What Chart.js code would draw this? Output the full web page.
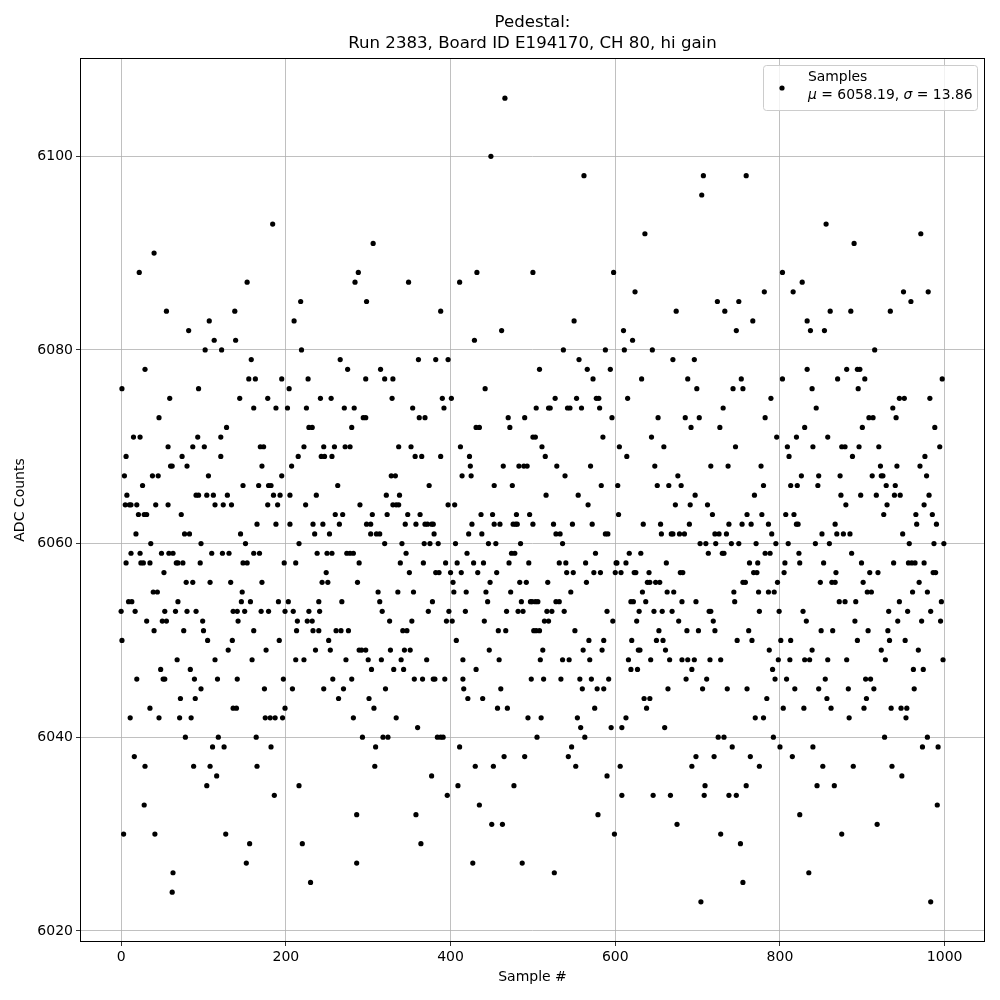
<!DOCTYPE html>
<html>
<head>
<meta charset="utf-8">
<title>Pedestal</title>
<script src="https://cdn.jsdelivr.net/npm/chart.js@4.4.1/dist/chart.umd.min.js"></script>
<style>
  html, body { margin: 0; padding: 0; background: #fff; }
  #wrap { width: 1000px; height: 1000px; }
</style>
</head>
<body>
<div id="wrap"><canvas id="chart" width="1000" height="1000"></canvas></div>
<script>
"use strict"

//Texts
const titleLines = ["Pedestal:", "Run 2383, Board ID E194170, CH 80, hi gain"];
const xTitle = "Sample #";
const yTitle = "ADC Counts";
const seriesName = "Samples";
const meanValue = "6058.19";
const sigmaValue = "13.86";

//Tick labels
const xTicks = [0, 200, 400, 600, 800, 1000];
const yTicks = [6020, 6040, 6060, 6080, 6100];

//Sample numbers (one line per strip of ~85 samples)
const sampleNo = [
  0,1,1,3,4,5,6,6,7,9,10,11,12,12,13,15,16,17,18,19,19,21,22,23,23,24,26,27,28,28,29,29,31,31,35,35,36,38,39,40,40,41,42,44,45,46,46,48,49,50,51,52,53,53,55,55,57,57,58,59,60,62,62,63,63,66,67,68,69,69,71,72,73,74,75,76,77,78,
  153,138,107,82,113,139,102,122,158,155,94,144,161,128,93,121,87,101,121,80,106,148,91,94,104,112,129,114,124,134,83,145,97,151,110,123,131,161,96,148,153,79,87,108,133,147,146,157,80,91,136,141,150,142,99,100,105,135,130,114,159,84,89,117,141,97,90,136,140,85,118,111,125,88,108,116,104,127,156,152,
  184,218,210,219,163,195,227,204,178,242,188,202,225,228,232,169,173,222,246,215,243,247,171,207,195,167,179,182,185,193,205,237,178,190,224,165,188,205,233,245,235,216,168,238,198,212,171,244,191,203,240,170,179,199,209,228,241,214,226,232,213,233,240,161,192,176,212,222,236,197,174,208,199,175,181,187,196,164,182,165,186,216,220,230,
  306,288,284,298,266,275,315,297,320,330,255,329,271,283,294,297,280,259,272,278,256,328,263,322,290,330,260,269,305,323,265,298,303,253,303,310,314,320,250,256,274,278,282,289,249,251,287,312,314,268,317,326,261,267,276,252,254,289,292,297,327,273,300,316,304,257,280,246,270,321,264,301,307,282,293,318,324,309,308,286,286,
  349,411,388,361,382,397,390,401,354,392,362,369,337,352,412,357,365,388,333,414,374,338,334,337,397,405,348,363,345,358,369,372,377,379,380,341,368,375,385,406,346,339,367,394,408,350,382,386,400,413,403,336,355,404,378,373,398,395,402,353,342,347,407,344,351,340,371,415,331,343,356,366,379,381,393,415,416,334,360,384,388,391,411,377,409,396,358,364,
  466,449,432,500,429,462,442,470,490,431,435,472,500,423,424,464,483,489,493,425,453,475,437,451,480,496,426,453,460,476,479,481,500,422,438,446,455,485,420,474,478,428,440,471,495,433,456,448,484,492,419,443,473,445,486,497,499,418,468,482,488,441,458,467,447,459,431,498,461,421,439,457,469,494,465,490,430,452,477,435,450,463,427,487,
  562,550,537,556,508,566,573,527,553,577,580,504,519,521,542,545,559,581,503,585,511,515,529,570,539,583,516,555,567,525,548,572,528,533,536,576,532,540,564,541,549,574,582,518,565,546,503,506,528,532,538,517,523,514,519,501,504,508,551,568,561,584,512,509,536,544,569,513,534,557,571,560,578,575,510,554,558,505,563,547,543,552,579,526,
  636,598,624,610,621,588,611,645,670,594,632,615,596,652,644,605,659,614,648,603,651,665,604,634,655,588,591,656,668,670,617,631,601,602,613,662,600,607,623,625,641,639,642,649,654,633,663,671,637,619,622,590,629,647,657,669,626,597,653,586,620,650,658,628,630,661,616,643,666,619,627,592,664,586,635,642,638,613,595,608,660,590,606,608,646,667,599,
  707,705,674,724,733,750,747,696,688,753,699,743,755,731,685,702,692,727,746,716,737,676,680,697,673,691,712,718,690,738,754,678,684,721,726,735,703,710,722,741,750,713,730,732,679,682,755,744,681,698,745,714,716,677,719,687,701,721,748,681,688,696,715,728,693,686,711,706,736,725,732,742,698,720,693,709,708,738,747,675,728,752,755,704,
  759,803,781,816,827,767,833,837,833,839,803,789,782,830,796,820,809,840,811,826,777,780,813,821,769,760,778,807,817,765,786,820,822,790,771,795,810,782,788,823,763,773,806,824,768,772,805,758,797,774,786,793,775,799,828,832,762,766,801,813,839,787,798,812,830,836,791,794,808,818,760,784,804,829,770,780,792,800,840,764,775,815,759,824,835,
  856,890,861,886,854,915,881,894,897,870,903,895,844,908,913,900,858,875,879,896,920,888,922,847,873,912,923,925,846,874,898,917,880,926,867,851,869,877,885,843,860,887,853,899,868,909,919,849,863,867,901,906,911,872,879,892,891,850,864,894,907,923,858,881,855,904,910,847,883,914,857,905,862,902,884,852,889,845,866,918,875,
  971,950,980,934,959,997,945,951,982,937,941,988,994,976,942,970,929,940,978,930,939,946,981,975,965,985,966,990,949,957,987,999,938,956,960,964,975,969,986,989,961,979,945,996,932,955,983,943,972,995,931,933,952,968,928,962,974,998,963,935,947,954,953,927,979,973,992,936,948,991,983
];

//ADC counts, same order as sampleNo
const adcCounts = [
  6053,6076,6050,6030,6067,6064,6069,6058,6065,6054,6064,6042,6064,6059,6054,6071,6038,6053,6061,6064,6046,6063,6088,6071,6059,6058,6066,6058,6063,6033,6078,6037,6063,6052,6058,6043,6060,6067,6055,6090,6051,6030,6064,6055,6067,6073,6042,6047,6059,6052,6046,6057,6046,6053,6084,6052,6070,6064,6059,6075,6068,6068,6024,6059,6026,6053,6058,6048,6058,6054,6042,6044,6063,6069,6058,6051,6061,6040,
  6087,6084,6083,6082,6081,6081,6080,6080,6079,6077,6076,6075,6074,6072,6071,6071,6070,6070,6069,6068,6067,6066,6065,6065,6065,6065,6065,6064,6064,6064,6061,6061,6060,6060,6059,6059,6059,6059,6058,6058,6058,6056,6056,6056,6056,6055,6054,6054,6053,6053,6053,6053,6053,6052,6052,6051,6050,6050,6049,6048,6048,6047,6046,6046,6046,6045,6044,6043,6043,6042,6040,6039,6039,6037,6037,6036,6035,6030,6029,6027,
  6093,6085,6083,6080,6077,6077,6077,6076,6075,6075,6074,6074,6074,6072,6072,6070,6070,6070,6070,6069,6069,6069,6068,6068,6067,6066,6066,6066,6065,6065,6065,6065,6064,6064,6064,6062,6062,6062,6062,6062,6061,6060,6059,6059,6058,6058,6056,6056,6054,6054,6054,6053,6053,6053,6053,6053,6053,6052,6052,6052,6051,6051,6051,6051,6050,6049,6048,6048,6049,6046,6045,6045,6043,6042,6042,6042,6042,6040,6039,6037,6034,6035,6029,6025,
  6091,6088,6087,6085,6079,6078,6078,6077,6077,6077,6075,6075,6074,6074,6073,6073,6072,6070,6070,6070,6069,6067,6066,6065,6064,6064,6063,6063,6063,6063,6062,6062,6062,6061,6061,6061,6061,6060,6059,6059,6059,6059,6059,6058,6057,6056,6056,6055,6054,6054,6053,6052,6051,6051,6051,6050,6049,6049,6049,6049,6049,6048,6048,6048,6047,6046,6046,6045,6045,6045,6044,6044,6043,6042,6040,6040,6040,6039,6037,6032,6027,
  6087,6087,6084,6079,6079,6079,6075,6075,6074,6074,6073,6073,6070,6070,6070,6069,6069,6069,6067,6067,6066,6065,6064,6064,6064,6064,6063,6063,6062,6062,6062,6062,6062,6062,6061,6060,6060,6060,6060,6060,6059,6058,6058,6058,6058,6057,6057,6057,6057,6057,6056,6055,6055,6055,6054,6053,6053,6052,6052,6052,6051,6051,6050,6049,6049,6048,6048,6048,6047,6047,6046,6046,6046,6046,6046,6046,6045,6042,6041,6040,6040,6040,6039,6036,6035,6034,6032,6029,
  6106,6100,6088,6088,6081,6082,6076,6073,6073,6072,6072,6072,6071,6069,6068,6068,6068,6068,6068,6067,6066,6066,6063,6063,6063,6063,6062,6062,6062,6062,6062,6062,6062,6061,6061,6060,6060,6060,6059,6059,6059,6058,6058,6058,6058,6057,6057,6056,6056,6056,6055,6055,6055,6054,6054,6054,6054,6053,6053,6053,6053,6052,6051,6051,6049,6048,6047,6046,6045,6044,6044,6043,6043,6042,6038,6038,6037,6037,6035,6033,6031,6031,6027,6027,
  6098,6083,6080,6079,6078,6078,6077,6075,6075,6075,6075,6074,6074,6074,6074,6074,6074,6074,6071,6071,6070,6069,6068,6068,6067,6066,6065,6065,6064,6062,6062,6062,6061,6061,6060,6059,6058,6058,6058,6057,6057,6057,6057,6056,6056,6055,6054,6054,6054,6054,6053,6053,6053,6052,6052,6051,6051,6051,6051,6050,6049,6049,6049,6048,6048,6048,6048,6046,6046,6046,6046,6045,6045,6043,6042,6042,6041,6040,6040,6039,6038,6037,6032,6026,
  6092,6088,6086,6082,6081,6080,6080,6080,6079,6078,6077,6075,6073,6073,6071,6070,6070,6069,6068,6066,6066,6066,6063,6062,6062,6061,6061,6061,6061,6061,6059,6059,6058,6058,6058,6058,6057,6057,6057,6057,6057,6056,6056,6056,6056,6055,6055,6055,6054,6054,6054,6053,6053,6053,6053,6053,6052,6052,6051,6050,6050,6050,6050,6049,6049,6049,6048,6048,6048,6047,6047,6046,6045,6045,6044,6044,6043,6042,6041,6041,6041,6036,6037,6034,6034,6034,6030,
  6098,6096,6084,6085,6084,6085,6082,6079,6077,6077,6076,6076,6076,6074,6073,6073,6072,6072,6070,6068,6068,6067,6066,6065,6064,6064,6064,6063,6062,6062,6062,6061,6061,6061,6061,6061,6060,6060,6060,6060,6060,6059,6059,6059,6057,6057,6056,6055,6054,6054,6054,6053,6053,6052,6052,6051,6051,6051,6050,6048,6048,6048,6048,6048,6047,6046,6046,6045,6045,6040,6040,6039,6038,6038,6037,6035,6034,6034,6034,6031,6030,6029,6025,6023,
  6098,6088,6086,6086,6087,6083,6083,6082,6078,6076,6077,6075,6073,6072,6071,6071,6070,6070,6069,6067,6068,6066,6066,6066,6065,6063,6063,6063,6063,6062,6062,6062,6062,6061,6060,6060,6060,6059,6059,6059,6058,6058,6058,6058,6057,6057,6057,6056,6056,6055,6055,6055,6053,6053,6053,6052,6051,6050,6050,6050,6049,6049,6048,6048,6048,6048,6047,6046,6046,6045,6045,6044,6043,6043,6042,6042,6040,6039,6039,6038,6037,6038,6035,6032,6026,
  6093,6091,6084,6084,6082,6080,6078,6078,6078,6077,6077,6076,6074,6073,6073,6072,6071,6070,6070,6070,6070,6069,6068,6067,6067,6067,6067,6067,6066,6065,6065,6065,6064,6063,6062,6061,6061,6061,6061,6060,6060,6059,6058,6058,6057,6057,6057,6056,6056,6056,6056,6055,6055,6054,6054,6054,6052,6051,6051,6050,6051,6049,6048,6048,6046,6046,6046,6045,6045,6045,6044,6044,6043,6043,6042,6037,6037,6035,6035,6031,6030,
  6092,6086,6086,6084,6085,6077,6075,6075,6075,6074,6073,6072,6070,6069,6068,6068,6066,6066,6067,6064,6065,6065,6065,6064,6063,6063,6062,6062,6061,6060,6060,6060,6058,6058,6058,6058,6058,6056,6057,6057,6055,6055,6054,6054,6053,6053,6053,6052,6052,6052,6051,6050,6050,6049,6048,6047,6047,6048,6045,6043,6043,6043,6042,6040,6040,6039,6039,6037,6036,6033,6023
];

if (sampleNo.length !== adcCounts.length) {
  console.log("Length mismatch: " + sampleNo.length + " vs " + adcCounts.length);
}

//Axis ranges (matplotlib style 5% margins)
const xMin = -49.95, xMax = 1048.95;
const yMin = 6018.85, yMax = 6110.15;

const fontFamily = "'DejaVu Sans', sans-serif";

let points = [];
for (let i = 0; i < sampleNo.length; i++) {
  points.push({x: sampleNo[i], y: adcCounts[i]});
}

//Title, frame and legend drawn like matplotlib
const decorPlugin = {
  id: "decor",
  afterDatasetsDraw(chart) {
    const ctx = chart.ctx;
    const area = chart.chartArea;
    ctx.save();
    ctx.strokeStyle = "#000";
    ctx.lineWidth = 1;
    ctx.strokeRect(Math.round(area.left) + 0.5, Math.round(area.top) + 0.5,
      Math.round(area.right - area.left) - 1, Math.round(area.bottom - area.top) - 1);

    //title
    const cx = (area.left + area.right) / 2;
    ctx.fillStyle = "#000";
    ctx.font = "16.6px " + fontFamily;
    ctx.textAlign = "center";
    ctx.textBaseline = "middle";
    ctx.fillText(titleLines[0], cx, 23);
    ctx.fillText(titleLines[1], cx, 44);

    //legend box
    const bx = 763.5, by = 65.5, bw = 214, bh = 45, r = 3;
    ctx.beginPath();
    ctx.moveTo(bx + r, by);
    ctx.arcTo(bx + bw, by, bx + bw, by + bh, r);
    ctx.arcTo(bx + bw, by + bh, bx, by + bh, r);
    ctx.arcTo(bx, by + bh, bx, by, r);
    ctx.arcTo(bx, by, bx + bw, by, r);
    ctx.closePath();
    ctx.fillStyle = "rgba(255,255,255,0.8)";
    ctx.fill();
    ctx.strokeStyle = "#cccccc";
    ctx.stroke();

    ctx.fillStyle = "#000";
    ctx.beginPath();
    ctx.arc(782, 88, 2.6, 0, Math.PI * 2);
    ctx.fill();

    ctx.textAlign = "left";
    ctx.font = "13.9px " + fontFamily;
    ctx.fillText(seriesName, 808, 77);
    let tx = 808;
    const parts = [["italic ", "\u03bc"], ["", " = " + meanValue + ", "], ["italic ", "\u03c3"], ["", " = " + sigmaValue]];
    for (let i = 0; i < parts.length; i++) {
      ctx.font = parts[i][0] + "13.9px " + fontFamily;
      ctx.fillText(parts[i][1], tx, 95);
      tx += ctx.measureText(parts[i][1]).width;
    }
    ctx.restore();
  }
};

const data = {
  datasets: [
    {
      label: seriesName,
      data: points,
      backgroundColor: "#000",
      borderWidth: 0,
      pointRadius: 2.6,
      pointHoverRadius: 2.6
    }
  ]
};

const config = {
  type: "scatter",
  data: data,
  options: {
    responsive: false,
    animation: false,
    events: [],
    devicePixelRatio: 1,
    layout: {padding: {left: 0, right: 15, top: 58, bottom: 0}},
    plugins: {
      legend: {display: false},
      title: {display: false},
      tooltip: {enabled: false}
    },
    scales: {
      x: {
        type: "linear",
        min: xMin,
        max: xMax,
        afterBuildTicks: (axis) => { axis.ticks = xTicks.map(v => ({value: v})); },
        afterFit: (axis) => { axis.height = 58; },
        grid: {color: "#b0b0b0", lineWidth: 0.8, tickColor: "#000", tickLength: 4},
        border: {display: false},
        ticks: {color: "#000", font: {family: fontFamily, size: 14}, padding: 3, maxRotation: 0, autoSkip: false,
          callback: (value) => String(value)},
        title: {display: true, text: xTitle, color: "#000", font: {family: fontFamily, size: 14}, padding: {top: 0, bottom: 14}}
      },
      y: {
        type: "linear",
        min: yMin,
        max: yMax,
        afterBuildTicks: (axis) => { axis.ticks = yTicks.map(v => ({value: v})); },
        afterFit: (axis) => { axis.width = 80; },
        grid: {color: "#b0b0b0", lineWidth: 0.8, tickColor: "#000", tickLength: 4},
        border: {display: false},
        ticks: {color: "#000", font: {family: fontFamily, size: 14}, padding: 3, autoSkip: false,
          callback: (value) => String(value)},
        title: {display: true, text: yTitle, color: "#000", font: {family: fontFamily, size: 14}, padding: {top: 12, bottom: 0}}
      }
    }
  },
  plugins: [decorPlugin]
};

const pedestalChart = new Chart(document.getElementById("chart"), config);
</script>
</body>
</html>
